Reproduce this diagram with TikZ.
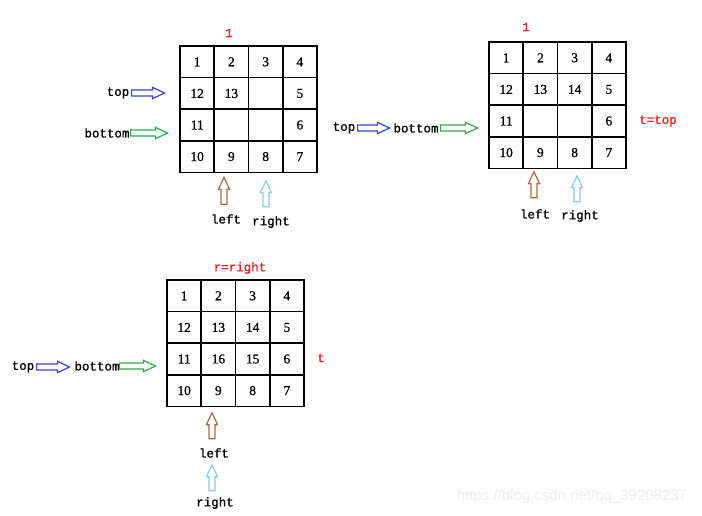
\documentclass[tikz,border=0pt]{standalone}
\usepackage{fontspec}
\setmainfont{Liberation Serif}
\newfontfamily\numfont[FakeBold=0.8]{Liberation Serif}
\newfontfamily\labelfont[FakeBold=1.2]{Liberation Mono}
\newfontfamily\wmfont{Liberation Sans}
\usetikzlibrary{shapes.arrows,positioning}

\definecolor{redtxt}{RGB}{235,30,30}
\definecolor{toparr}{RGB}{55,65,205}
\definecolor{botarr}{RGB}{45,170,75}
\definecolor{leftarr}{RGB}{175,105,65}
\definecolor{rightarr}{RGB}{135,205,230}

% one 4x4 board: x, y of top-left corner, name, entries row by row
\newcommand{\board}[4]{%
  \foreach \n [count=\i from 0] in {#4} {
    \pgfmathtruncatemacro{\col}{mod(\i,4)}
    \pgfmathtruncatemacro{\row}{div(\i,4)}
    \node[cell] (#3-\i) at ({#1+34.25*(\col+0.5)},{#2+31.6*(\row+0.5)}) {\n};
  }}

\begin{document}
\begin{tikzpicture}[x=1pt, y=-1pt,
  cell/.style={draw, line width=1.6pt, minimum width=34.25pt, minimum height=31.6pt, inner sep=0pt, font=\numfont\fontsize{13.5}{13.5}\selectfont},
  lbl/.style={font=\labelfont\fontsize{12.5}{12.5}\selectfont, inner sep=0pt},
  redlbl/.style={lbl, text=redtxt},
  hollow/.style={single arrow, draw=#1, line width=1.2pt, inner sep=2.4pt, single arrow head extend=2.6pt, single arrow tip angle=50, single arrow head indent=0pt}]
\useasboundingbox (0,0) rectangle (702,516);

% first board
\board{180}{46}{a}{1,2,3,4,12,13,{},5,11,{},{},6,10,9,8,7}
\node[redlbl] (a-title) at (229,33) {1};
\node[lbl] (a-top) at (118,93) {top};
\node[hollow=toparr, minimum height=33pt, anchor=west] (a-toparr) at (131,93) {};
\node[lbl] (a-bot) at (107,133) {bottom};
\node[hollow=botarr, minimum height=37pt, anchor=west] (a-botarr) at (130,133) {};
\node[hollow=leftarr, minimum height=27pt, rotate=90] (a-leftarr) at (224,194) {};
\node[lbl] (a-left) at (226,219) {left};
\node[hollow=rightarr, minimum height=26pt, rotate=90] (a-rightarr) at (266,197) {};
\node[lbl] (a-right) at (271,222) {right};

% second board
\board{489}{42}{b}{1,2,3,4,12,13,14,5,11,{},{},6,10,9,8,7}
\node[redlbl] (b-title) at (526,27) {1};
\node[redlbl] (b-t) at (658,121) {t=top};
\node[lbl] (b-top) at (344,128) {top};
\node[hollow=toparr, minimum height=32pt, anchor=west] (b-toparr) at (357,128) {};
\node[lbl] (b-bot) at (416,128) {bottom};
\node[hollow=botarr, minimum height=37pt, anchor=west] (b-botarr) at (440,128) {};
\node[hollow=leftarr, minimum height=26pt, rotate=90] (b-leftarr) at (534,188) {};
\node[lbl] (b-left) at (535,214) {left};
\node[hollow=rightarr, minimum height=26pt, rotate=90] (b-rightarr) at (577,192) {};
\node[lbl] (b-right) at (580,216) {right};

% third board
\board{167}{280}{c}{1,2,3,4,12,13,14,5,11,16,15,6,10,9,8,7}
\node[redlbl] (c-title) at (240,268) {r=right};
\node[redlbl] (c-t) at (321,358) {t};
\node[lbl] (c-top) at (23,367) {top};
\node[hollow=toparr, minimum height=33pt, anchor=west] (c-toparr) at (36,367) {};
\node[lbl] (c-bot) at (97,366) {bottom};
\node[hollow=botarr, minimum height=36pt, anchor=west] (c-botarr) at (119,366) {};
\node[hollow=leftarr, minimum height=26pt, rotate=90] (c-leftarr) at (212,429) {};
\node[lbl] (c-left) at (214,453) {left};
\node[hollow=rightarr, minimum height=26pt, rotate=90] (c-rightarr) at (212,481) {};
\node[lbl] (c-right) at (215,503) {right};

% watermark
\node[font=\wmfont\fontsize{15}{15}\selectfont, text=gray!13, inner sep=0pt] (wm) at (572,497) {https://blog.csdn.net/qq\_39208237};
\end{tikzpicture}
\end{document}
